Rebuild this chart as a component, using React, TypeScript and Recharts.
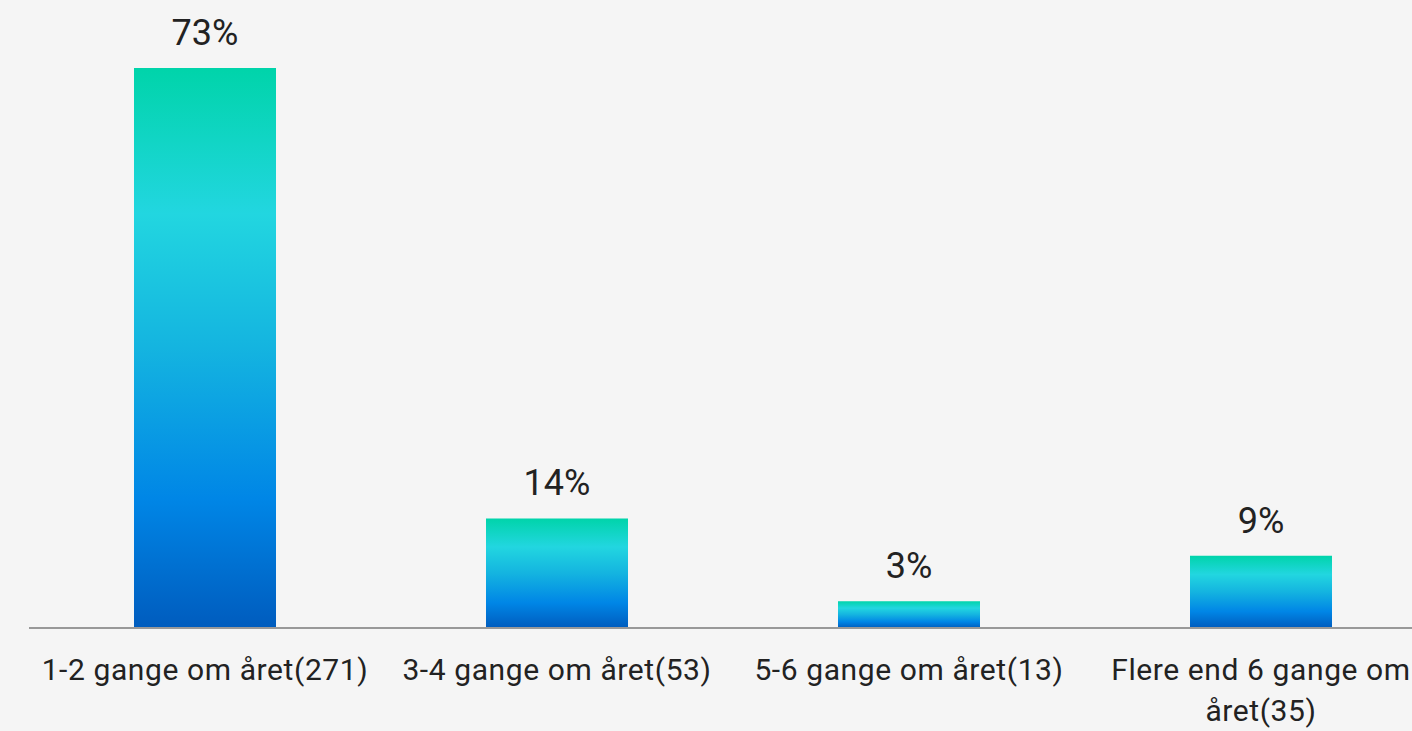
import React from "react"
import { BarChart, Bar, XAxis, YAxis, LabelList } from "recharts"

const categories = [
  "1-2 gange om året(271)",
  "3-4 gange om året(53)",
  "5-6 gange om året(13)",
  "Flere end 6 gange om året(35)",
]
const shares = [72.85, 14.25, 3.49, 9.41]
const shareLabels = ["73%", "14%", "3%", "9%"]

const data = categories.map((name, i) => ({
  name,
  value: shares[i],
  label: shareLabels[i],
}))

const FONT = "Roboto, 'DejaVu Sans', sans-serif"
const TICK_SIZE = 30
const TICK_SPACING = 0.6
const TICK_MAX = 340

// split a label into lines that fit TICK_MAX px
function wrapLabel(text: string): string[] {
  const ctx = document.createElement("canvas").getContext("2d")
  const measure = (s: string) => {
    if (!ctx) return s.length * TICK_SIZE * 0.5
    ctx.font = `${TICK_SIZE}px ${FONT}`
    return ctx.measureText(s).width + s.length * TICK_SPACING
  }
  const words = text.split(" ")
  const lines: string[] = []
  let cur = ""
  for (const w of words) {
    const next = cur ? cur + " " + w : w
    if (cur && measure(next) > TICK_MAX) {
      lines.push(cur)
      cur = w
    } else {
      cur = next
    }
  }
  if (cur) lines.push(cur)
  return lines
}

function WrappedTick(props: any) {
  const { x, y, payload } = props
  const lines = wrapLabel(String(payload.value))
  return (
    <text
      x={x}
      y={y + 44}
      textAnchor="middle"
      fill="#222"
      style={{ fontFamily: FONT, fontSize: TICK_SIZE, letterSpacing: TICK_SPACING }}
    >
      {lines.map((l, i) => (
        <tspan key={i} x={x} dy={i === 0 ? 0 : 41}>
          {l}
        </tspan>
      ))}
    </text>
  )
}

export default function App() {
  return (
    <div
      style={{
        position: "fixed",
        left: 0,
        top: 0,
        width: 1412,
        height: 731,
        overflow: "hidden",
        background: "#f5f5f5",
      }}
    >
      <BarChart
        width={1460}
        height={731}
        data={data}
        margin={{ top: 13, right: 23, left: 29, bottom: 0 }}
        barCategoryGap={105}
      >
        <defs>
          <linearGradient id="barFill" x1="0" y1="0" x2="0" y2="1">
            <stop offset="0%" stopColor="#00d4aa" />
            <stop offset="26%" stopColor="#22d6e0" />
            <stop offset="50%" stopColor="#14b4e0" />
            <stop offset="77%" stopColor="#0086e6" />
            <stop offset="100%" stopColor="#005cbe" />
          </linearGradient>
        </defs>
        <XAxis
          dataKey="name"
          axisLine={{ stroke: "#999", strokeWidth: 2 }}
          tickLine={false}
          tick={<WrappedTick />}
          height={103}
          interval={0}
        />
        <YAxis hide domain={[0, 80]} />
        <Bar dataKey="value" fill="url(#barFill)" isAnimationActive={false}>
          <LabelList
            dataKey="label"
            position="top"
            offset={23}
            fill="#222"
            style={{ fontFamily: FONT, fontSize: 36 }}
          />
        </Bar>
      </BarChart>
    </div>
  )
}
